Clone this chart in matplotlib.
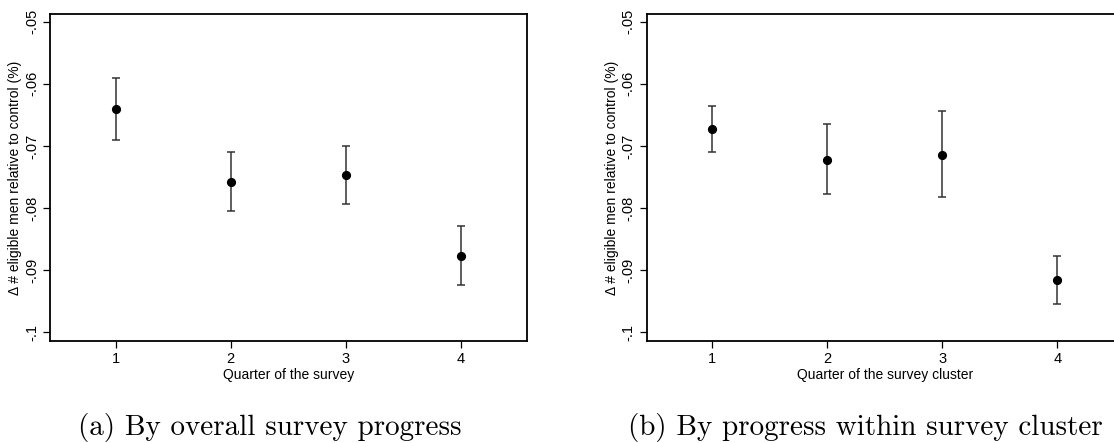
import matplotlib
matplotlib.use('Agg')
import matplotlib.pyplot as plt

# quarters on the x axis
quarters = [1, 2, 3, 4]
# panel (a): by overall survey progress
est_a = [-0.0641, -0.0758, -0.0747, -0.0877]
lo_a = [-0.0690, -0.0805, -0.0794, -0.0924]
hi_a = [-0.0591, -0.0710, -0.0700, -0.0829]
# panel (b): by progress within survey cluster
est_b = [-0.0672, -0.0722, -0.0714, -0.0916]
lo_b = [-0.0709, -0.0777, -0.0782, -0.0955]
hi_b = [-0.0635, -0.0665, -0.0644, -0.0877]

yticks = [-0.05, -0.06, -0.07, -0.08, -0.09, -0.1]
ytick_labels = ['-.05', '-.06', '-.07', '-.08', '-.09', '-.1']
ylabel = '\u0394 # eligible men relative to control (%)'
xlabels = ['Quarter of the survey', 'Quarter of the survey cluster']
captions = ['(a) By overall survey progress', '(b) By progress within survey cluster']

plt.rcParams['font.family'] = ['Liberation Sans', 'DejaVu Sans']

fig = plt.figure(figsize=(11.14, 4.43), dpi=100)
ax_a = fig.add_axes([0.0449, 0.2302, 0.4282, 0.7382])
ax_b = fig.add_axes([0.5805, 0.2302, 0.4282, 0.7382])

panels = [(ax_a, est_a, lo_a, hi_a), (ax_b, est_b, lo_b, hi_b)]
for i, (ax, est, lo, hi) in enumerate(panels):
    err_lo = [e - l for e, l in zip(est, lo)]
    err_hi = [h - e for e, h in zip(est, hi)]
    ax.errorbar(quarters, est, yerr=[err_lo, err_hi], fmt='none',
                ecolor='#333333', elinewidth=1.1, capsize=2.7, capthick=1.1)
    ax.plot(quarters, est, 'o', color='black', markersize=5.6)
    ax.set_xlim(0.43, 4.577)
    ax.set_ylim(-0.1014, -0.04876)
    ax.set_xticks(quarters)
    ax.set_xticklabels([str(q) for q in quarters])
    ax.set_yticks(yticks)
    ax.set_yticklabels(ytick_labels, rotation=90, va='center')
    ax.tick_params(direction='out', length=5, width=0.9, labelsize=10.5, pad=3, colors='black')
    for sp in ax.spines.values():
        sp.set_linewidth(1.3)
    ax.set_xlabel(xlabels[i], fontsize=10, labelpad=1)
    ax.set_ylabel(ylabel, fontsize=10)
    ax.yaxis.set_label_coords(-0.058, 0.5)

fig.text(270 / 1114, 1 - 428 / 443, captions[0], fontfamily='cmr10',
         fontsize=21, ha='center', va='center')
fig.text(865 / 1114, 1 - 428 / 443, captions[1], fontfamily='cmr10',
         fontsize=21, ha='center', va='center')

fig.savefig('out.png', dpi=100)
